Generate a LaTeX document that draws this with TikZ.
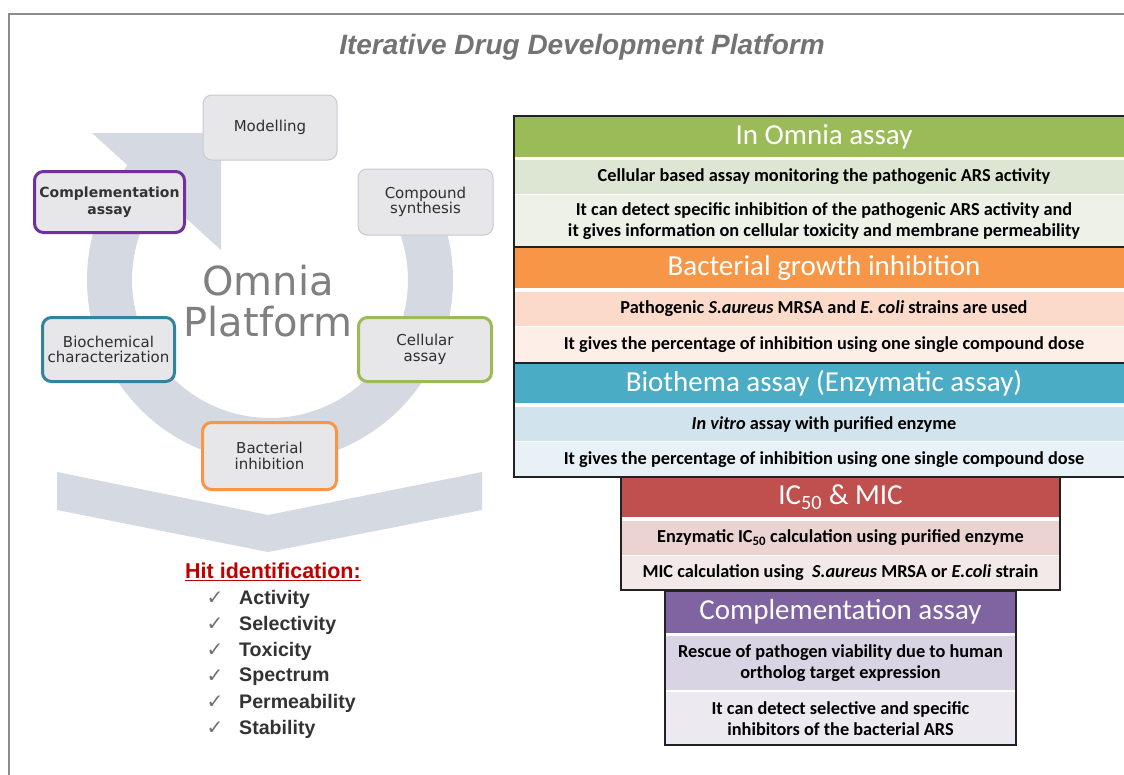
\documentclass[tikz,border=0pt]{standalone}
\usepackage{fontspec}
\setmainfont{DejaVu Sans}
\newfontfamily\calfont{Carlito}
\newfontfamily\arialfont{Liberation Sans}
\newfontfamily\dvfont{DejaVu Sans}

\definecolor{framec}{HTML}{8C8C8C}
\definecolor{titlec}{HTML}{737373}
\definecolor{ringc}{HTML}{D5D9E1}
\definecolor{boxfill}{HTML}{E7E7E9}
\definecolor{boxtext}{HTML}{2E2E2E}
\definecolor{stageline}{HTML}{C5CAD6}
\definecolor{purplec}{HTML}{7030A0}
\definecolor{tealc}{HTML}{31849B}
\definecolor{greenc}{HTML}{9BBB59}
\definecolor{orangec}{HTML}{F79646}
\definecolor{omniac}{HTML}{808080}
\definecolor{hitred}{HTML}{C00000}
\definecolor{itemc}{HTML}{333333}
\definecolor{tickc}{HTML}{707070}
% table colours
\definecolor{hgreen}{HTML}{9BBB59}
\definecolor{rgreenA}{HTML}{DDE6D3}
\definecolor{rgreenB}{HTML}{EDF1E8}
\definecolor{horange}{HTML}{F79646}
\definecolor{rorangeA}{HTML}{FCDACA}
\definecolor{rorangeB}{HTML}{FDEEE8}
\definecolor{hblue}{HTML}{4BACC6}
\definecolor{rblueA}{HTML}{D1E3EC}
\definecolor{rblueB}{HTML}{E8F1F5}
\definecolor{hred}{HTML}{C0504D}
\definecolor{rredA}{HTML}{EBD3D2}
\definecolor{rredB}{HTML}{F4E9E9}
\definecolor{hpurple}{HTML}{8064A2}
\definecolor{rpurpleA}{HTML}{D9D4E3}
\definecolor{rpurpleB}{HTML}{ECEAF0}
\definecolor{tborder}{HTML}{222222}

\begin{document}
\begin{tikzpicture}[x=1pt,y=-1pt,
  stage/.style={rounded corners=9pt, fill=boxfill, draw=#1, line width=3pt,
    inner sep=2pt, align=center, text=boxtext,
    font=\dvfont\fontsize{15}{15.5}\selectfont},
  greystage/.style={stage=stageline, line width=1pt},
  t1/.style={minimum width=620pt},
  t2/.style={minimum width=439pt},
  t3/.style={minimum width=351pt},
  hdr/.style={inner sep=0pt, text=white, font=\calfont\fontsize{29}{30}\selectfont},
  cell/.style={inner sep=0pt, align=center, text=black,
    font=\calfont\bfseries\fontsize{18.3}{21.5}\selectfont},
  tline/.style={draw=tborder, line width=1.5pt},
  tick/.style={inner sep=0pt, text=tickc, font=\dvfont\fontsize{20}{20}\selectfont},
  item/.style={inner sep=0pt, anchor=west, text=itemc,
    font=\arialfont\bfseries\fontsize{19.6}{20}\selectfont}
]
\useasboundingbox (0,0) rectangle (1124,774);
\clip (0,0) rectangle (1124,774);
\fill[white] (0,0) rectangle (1124,774);

% outer frame
\draw[framec, line width=2pt] (9,780) -- (9,14) -- (1130,14);

% title
\node[inner sep=0pt, text=titlec, font=\arialfont\bfseries\itshape\fontsize{28}{30}\selectfont]
  (title) at (582,47) {Iterative Drug Development Platform};

% circular arrow of the platform cycle
\coordinate (c) at (270,280);
\fill[ringc] ([shift={(-35:183)}]c) arc[start angle=-35,end angle=222,radius=183]
  -- ([shift={(222:138)}]c) arc[start angle=222,end angle=-35,radius=138] -- cycle;
\fill[ringc] (92,133) -- (221,133) -- (221,250) -- cycle;

% chevron below the cycle
\fill[ringc] (57,472) -- (268,515) -- (482,472) -- (482,510) -- (268,552) -- (57,510) -- cycle;

% central label
\node[inner sep=0pt, align=center, text=omniac, font=\dvfont\fontsize{40}{41}\selectfont]
  (omnia) at (268,301) {Omnia\\Platform};

% cycle stages
\node[greystage, minimum width=134pt, minimum height=65pt] (model) at (270,127.5) {Modelling};
\node[greystage, minimum width=135pt, minimum height=66pt] (synth) at (425.5,202) {Compound\\synthesis};
\node[stage=purplec, minimum width=150pt, minimum height=61pt,
  font=\dvfont\bfseries\fontsize{14}{17}\selectfont, text=itemc] (compl) at (109.5,202) {Complementation\\assay};
\node[stage=tealc, minimum width=132pt, minimum height=64pt] (bioch) at (108.5,349.5) {Biochemical\\characterization};
\node[stage=greenc, minimum width=133pt, minimum height=64pt] (cell) at (425,349.5) {Cellular\\assay};
\node[stage=orangec, minimum width=134pt, minimum height=67pt] (bact) at (269.5,456) {Bacterial\\inhibition};

% hit identification list
\node[inner sep=0pt, text=hitred, font=\arialfont\bfseries\fontsize{21.5}{24}\selectfont]
  (hit) at (273,572) {\underline{Hit identification:}};
\foreach \t [count=\i] in {Activity,Selectivity,Toxicity,Spectrum,Permeability,Stability}{
  \node[tick] (tick\i) at (215,572+26*\i) {✓};
  \node[item] (item\i) at (239,573+26*\i) {\t};
}

% table: In Omnia / bacterial growth / Biothema
\node[t1, hdr, fill=hgreen, minimum height=41pt] (h1) at (824,136.5) {In Omnia assay};
\node[t1, cell, fill=rgreenA, minimum height=34pt] (r1a) at (824,177) {Cellular based assay monitoring the pathogenic ARS activity};
\node[t1, cell, fill=rgreenB, minimum height=52pt] (r1b) at (824,221) {It can detect specific inhibition of the pathogenic ARS activity and\\it gives information on cellular toxicity and membrane permeability};
\node[t1, hdr, fill=horange, minimum height=41pt] (h2) at (824,267.5) {Bacterial growth inhibition};
\node[t1, cell, fill=rorangeA, minimum height=34pt] (r2a) at (824,309) {Pathogenic \textit{S.aureus} MRSA and \textit{E. coli} strains are used};
\node[t1, cell, fill=rorangeB, minimum height=35pt] (r2b) at (824,344.5) {It gives the percentage of inhibition using one single compound dose};
\node[t1, hdr, fill=hblue, minimum height=40pt] (h3) at (824,383) {Biothema assay (Enzymatic assay)};
\node[t1, cell, fill=rblueA, minimum height=34pt] (r3a) at (824,424) {\textit{In vitro} assay with purified enzyme};
\node[t1, cell, fill=rblueB, minimum height=35pt] (r3b) at (824,459.5) {It gives the percentage of inhibition using one single compound dose};
\draw[tline] (h1.north west) rectangle (r3b.south east);
\draw[tline] (h2.north west) -- (h2.north east);
\draw[tline] (h3.north west) -- (h3.north east);

% table: IC50 & MIC
\node[t2, hdr, fill=hred, minimum height=40pt] (h4) at (840.5,497) {IC\textsubscript{50} \& MIC};
\node[t2, cell, fill=rredA, minimum height=34pt] (r4a) at (840.5,538) {Enzymatic IC\textsubscript{50} calculation using purified enzyme};
\node[t2, cell, fill=rredB, minimum height=34pt] (r4b) at (840.5,573) {MIC calculation using~ \textit{S.aureus} MRSA or \textit{E.coli} strain};
\draw[tline] (h4.north west) rectangle (r4b.south east);

% table: complementation assay
\node[t3, hdr, fill=hpurple, minimum height=42pt] (h5) at (840.5,612) {Complementation assay};
\node[t3, cell, fill=rpurpleA, minimum height=54pt] (r5a) at (840.5,663) {Rescue of pathogen viability due to human\\ortholog target expression};
\node[t3, cell, fill=rpurpleB, minimum height=53pt] (r5b) at (840.5,718.5) {It can detect selective and specific\\inhibitors of the bacterial ARS};
\draw[tline] (h5.north west) rectangle (r5b.south east);
\end{tikzpicture}
\end{document}
